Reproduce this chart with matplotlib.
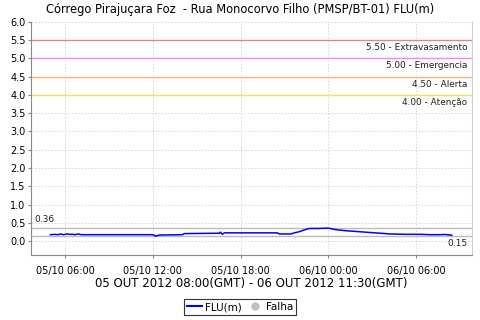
import datetime as dt
import matplotlib
matplotlib.use("Agg")
import matplotlib.pyplot as plt
import matplotlib.dates as mdates
from matplotlib.lines import Line2D

# level readings (local time), FLU(m)
times = ["05/10 05:00", "05/10 05:18", "05/10 05:30", "05/10 05:42", "05/10 05:54",
         "05/10 06:06", "05/10 06:18", "05/10 06:30", "05/10 06:42", "05/10 06:54",
         "05/10 07:06", "05/10 07:18", "05/10 07:30", "05/10 07:53", "05/10 12:00",
         "05/10 12:11", "05/10 12:27", "05/10 14:01", "05/10 14:09", "05/10 16:33",
         "05/10 16:37", "05/10 16:45", "05/10 16:53", "05/10 20:30", "05/10 20:38",
         "05/10 21:27", "05/10 21:40", "05/10 22:00", "05/10 22:21", "05/10 22:41",
         "05/10 23:16", "06/10 00:00", "06/10 00:28", "06/10 01:09", "06/10 02:10",
         "06/10 03:32", "06/10 04:16", "06/10 05:17", "06/10 06:18", "06/10 06:59",
         "06/10 07:30", "06/10 08:00", "06/10 08:26"]
levels = [0.18, 0.19, 0.18, 0.20, 0.18,
          0.20, 0.19, 0.19, 0.18, 0.20,
          0.18, 0.18, 0.18, 0.18, 0.18,
          0.14, 0.17, 0.18, 0.21, 0.22,
          0.25, 0.19, 0.23, 0.23, 0.20,
          0.20, 0.23, 0.26, 0.31, 0.35,
          0.35, 0.36, 0.32, 0.29, 0.26,
          0.22, 0.20, 0.19, 0.19, 0.18,
          0.18, 0.185, 0.165]

thresholds = [5.5, 5.0, 4.5, 4.0]
threshold_labels = ["5.50 - Extravasamento", "5.00 - Emergencia", "4.50 - Alerta", "4.00 - Atenção"]
threshold_colors = ["#e38585", "#ff80ff", "#ffb070", "#f0e060"]

max_level = 0.36
min_level = 0.15

xticks = ["05/10 06:00", "05/10 12:00", "05/10 18:00", "06/10 00:00", "06/10 06:00"]

def parse(s):
    return dt.datetime.strptime("2012/" + s, "%Y/%d/%m %H:%M")

t = [parse(s) for s in times]

fig = plt.figure(figsize=(4.8, 3.2), dpi=100)
ax = fig.add_axes([31/480, 65/320, 441/480, 233.3/320])

ax.set_xlim(parse("05/10 03:40"), parse("06/10 09:49"))
ax.set_ylim(-0.375, 6.0)
ax.set_yticks([i * 0.5 for i in range(13)])
ax.set_xticks([parse(s) for s in xticks])
ax.xaxis.set_major_formatter(mdates.DateFormatter("%d/%m %H:%M"))

ax.grid(True, color="#d4d4d4", linestyle=(0, (2, 2)), linewidth=0.6)
ax.set_axisbelow(True)

for v, lab, c in zip(thresholds, threshold_labels, threshold_colors):
    ax.axhline(v, color=c, linewidth=1)
    ax.text(0.99, v - 0.08, lab, transform=ax.get_yaxis_transform(), ha="right", va="top",
            fontsize=6.4, color="#222222")

ax.axhline(max_level, color="#bbbbbb", linewidth=1)
ax.axhline(min_level, color="#bbbbbb", linewidth=1)
ax.text(0.008, max_level + 0.12, "0.36", transform=ax.get_yaxis_transform(),
        ha="left", va="bottom", fontsize=6.5, color="#222222")
ax.text(0.99, min_level - 0.1, "0.15", transform=ax.get_yaxis_transform(),
        ha="right", va="top", fontsize=6.5, color="#222222")

ax.plot(t, levels, color="#0000ff", linewidth=1.1)

ax.spines["top"].set_visible(False)
ax.spines["right"].set_color("#cccccc")
ax.spines["left"].set_color("#888888")
ax.spines["bottom"].set_color("#888888")
ax.tick_params(axis="both", labelsize=7, length=2, color="#888888", pad=2)
ax.tick_params(axis="x", pad=6)

ax.set_xlabel("05 OUT 2012 08:00(GMT) - 06 OUT 2012 11:30(GMT)", fontsize=8.5, labelpad=1)
fig.text(0.5, 1 - 9/320, "Córrego Pirajuçara Foz  - Rua Monocorvo Filho (PMSP/BT-01) FLU(m)",
         ha="center", va="center", fontsize=8.3)

handles = [Line2D([], [], color="#0000ff", linewidth=1.5),
           Line2D([], [], color="#c0c0c0", marker="o", linestyle="none", markersize=5)]
leg = fig.legend(handles, ["FLU(m)", "Falha"], loc="center", bbox_to_anchor=(0.5, 1 - 307/320),
                 ncol=2, fontsize=7.5, frameon=True, fancybox=False, handlelength=1.5,
                 handletextpad=0.3, columnspacing=0.5, borderpad=0.3)
leg.get_frame().set_edgecolor("black")
leg.get_frame().set_linewidth(0.8)

fig.savefig("out.png", dpi=100)
